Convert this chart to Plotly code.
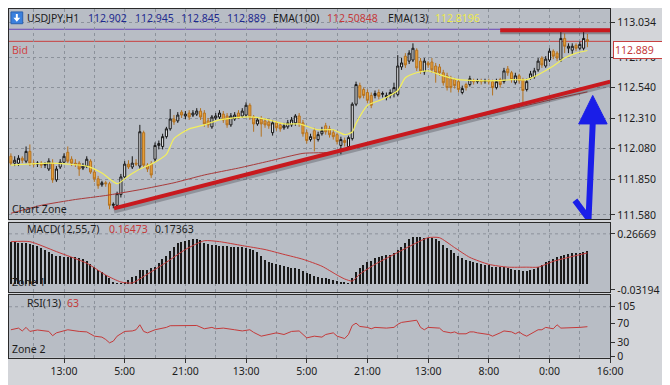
import plotly.graph_objects as go

W, H = 670, 385


def px(x):
    return x / W


def py(y):
    return 1 - y / H


# ---------------- data ----------------
opens = [
    112.022, 111.970, 111.970, 112.007, 111.985, 112.059, 111.970, 111.963, 111.970, 111.955,
    111.926, 111.970, 111.844, 111.941, 111.977, 112.052, 112.000, 111.970, 111.970, 111.933,
    111.948, 111.985, 111.903, 111.852, 111.807, 111.822, 111.815, 111.652, 111.652, 111.733,
    111.866, 111.963, 111.941, 111.970, 111.948, 112.200, 111.955, 111.963, 112.000, 112.104,
    112.096, 112.170, 112.229, 112.303, 112.289, 112.355, 112.326, 112.348, 112.333, 112.340,
    112.363, 112.348, 112.289, 112.244, 112.311, 112.318, 112.340, 112.326, 112.259, 112.303,
    112.348, 112.326, 112.333, 112.407, 112.318, 112.266, 112.303, 112.289, 112.281, 112.200,
    112.274, 112.259, 112.237, 112.244, 112.259, 112.274, 112.326, 112.274, 112.200, 112.148,
    112.215, 112.148, 112.192, 112.252, 112.229, 112.200, 112.185, 112.104, 112.141, 112.096,
    112.155, 112.415, 112.555, 112.526, 112.503, 112.481, 112.481, 112.503, 112.489, 112.466,
    112.481, 112.496, 112.489, 112.696, 112.777, 112.740, 112.748, 112.822, 112.740, 112.659,
    112.726, 112.733, 112.703, 112.696, 112.652, 112.629, 112.607, 112.600, 112.585, 112.503,
    112.563, 112.563, 112.592, 112.585, 112.592, 112.585, 112.592, 112.585, 112.540, 112.600,
    112.585, 112.681, 112.652, 112.577, 112.629, 112.600, 112.526, 112.614, 112.622, 112.674,
    112.763, 112.703, 112.748, 112.815, 112.800, 112.748, 112.911, 112.837, 112.822, 112.859,
    112.837, 112.837, 112.902]

highs = [
    112.044, 112.022, 112.030, 112.022, 112.096, 112.111, 111.992, 111.985, 111.985, 111.977,
    112.007, 112.000, 111.948, 112.000, 112.044, 112.096, 112.022, 112.000, 111.985, 111.970,
    112.022, 112.000, 111.926, 111.874, 111.837, 111.837, 111.829, 111.674, 111.755, 111.889,
    111.985, 111.992, 112.022, 112.000, 112.259, 112.215, 111.970, 111.985, 112.126, 112.141,
    112.192, 112.244, 112.378, 112.333, 112.355, 112.370, 112.363, 112.370, 112.370, 112.385,
    112.385, 112.370, 112.311, 112.333, 112.348, 112.370, 112.363, 112.348, 112.348, 112.355,
    112.370, 112.385, 112.429, 112.422, 112.333, 112.318, 112.326, 112.311, 112.303, 112.296,
    112.289, 112.274, 112.274, 112.296, 112.318, 112.340, 112.348, 112.296, 112.222, 112.192,
    112.237, 112.207, 112.244, 112.274, 112.252, 112.222, 112.200, 112.170, 112.163, 112.178,
    112.429, 112.585, 112.577, 112.540, 112.526, 112.503, 112.518, 112.526, 112.511, 112.503,
    112.526, 112.577, 112.785, 112.763, 112.800, 112.822, 112.874, 112.837, 112.763, 112.763,
    112.740, 112.763, 112.726, 112.718, 112.674, 112.652, 112.629, 112.614, 112.607, 112.555,
    112.577, 112.629, 112.607, 112.607, 112.607, 112.607, 112.607, 112.600, 112.607, 112.614,
    112.689, 112.703, 112.666, 112.652, 112.644, 112.614, 112.607, 112.666, 112.689, 112.763,
    112.777, 112.777, 112.837, 112.829, 112.815, 112.963, 112.948, 112.874, 112.874, 112.874,
    112.889, 112.963, 112.945]

lows = [
    111.955, 111.948, 111.948, 111.970, 111.970, 111.948, 111.941, 111.941, 111.933, 111.933,
    111.911, 111.822, 111.829, 111.926, 111.970, 111.970, 111.948, 111.941, 111.874, 111.918,
    111.933, 111.889, 111.829, 111.777, 111.792, 111.792, 111.622, 111.629, 111.637, 111.711,
    111.859, 111.926, 111.926, 111.948, 111.926, 111.933, 111.903, 111.859, 111.977, 112.074,
    112.074, 112.155, 112.215, 112.259, 112.274, 112.311, 112.303, 112.296, 112.318, 112.326,
    112.296, 112.244, 112.237, 112.229, 112.296, 112.303, 112.274, 112.237, 112.244, 112.289,
    112.303, 112.311, 112.318, 112.296, 112.207, 112.252, 112.170, 112.237, 112.229, 112.178,
    112.215, 112.207, 112.222, 112.229, 112.244, 112.252, 112.244, 112.170, 112.118, 112.133,
    112.059, 112.133, 112.178, 112.185, 112.163, 112.148, 112.111, 112.037, 112.096, 112.074,
    112.141, 112.400, 112.452, 112.459, 112.422, 112.385, 112.459, 112.452, 112.466, 112.444,
    112.459, 112.466, 112.474, 112.674, 112.689, 112.718, 112.733, 112.666, 112.644, 112.637,
    112.689, 112.652, 112.577, 112.629, 112.555, 112.518, 112.503, 112.533, 112.503, 112.489,
    112.518, 112.548, 112.563, 112.570, 112.563, 112.570, 112.563, 112.481, 112.526, 112.540,
    112.570, 112.629, 112.577, 112.563, 112.570, 112.429, 112.511, 112.600, 112.607, 112.659,
    112.689, 112.689, 112.733, 112.755, 112.740, 112.733, 112.800, 112.800, 112.792, 112.815,
    112.822, 112.822, 112.845]

closes = [
    111.970, 111.992, 112.007, 111.992, 112.059, 111.970, 111.963, 111.970, 111.955, 111.963,
    111.985, 111.844, 111.926, 111.977, 112.022, 111.985, 111.970, 111.963, 111.926, 111.948,
    112.000, 111.903, 111.852, 111.800, 111.822, 111.815, 111.652, 111.659, 111.740, 111.866,
    111.963, 111.941, 111.970, 111.963, 112.207, 111.955, 111.926, 111.881, 112.104, 112.118,
    112.170, 112.229, 112.303, 112.281, 112.333, 112.333, 112.340, 112.318, 112.348, 112.363,
    112.318, 112.266, 112.259, 112.318, 112.326, 112.348, 112.296, 112.259, 112.326, 112.333,
    112.318, 112.363, 112.407, 112.318, 112.266, 112.296, 112.266, 112.259, 112.252, 112.274,
    112.237, 112.229, 112.252, 112.274, 112.296, 112.326, 112.266, 112.192, 112.141, 112.170,
    112.155, 112.185, 112.215, 112.207, 112.185, 112.170, 112.133, 112.148, 112.126, 112.163,
    112.415, 112.563, 112.466, 112.481, 112.444, 112.407, 112.496, 112.474, 112.496, 112.481,
    112.503, 112.540, 112.703, 112.726, 112.711, 112.800, 112.837, 112.689, 112.666, 112.740,
    112.711, 112.674, 112.652, 112.652, 112.577, 112.540, 112.540, 112.555, 112.526, 112.533,
    112.540, 112.607, 112.585, 112.592, 112.585, 112.592, 112.585, 112.540, 112.585, 112.563,
    112.666, 112.652, 112.600, 112.629, 112.592, 112.518, 112.585, 112.644, 112.666, 112.740,
    112.711, 112.755, 112.815, 112.777, 112.763, 112.911, 112.852, 112.852, 112.852, 112.837,
    112.866, 112.911, 112.889]

bars = list(range(len(closes)))

ema13_x = [0, 10, 15, 20, 24, 28, 31, 34, 37, 41, 43, 47, 51, 55, 61, 64, 68, 72, 76, 77,
           81, 85, 88, 90, 91, 94, 98, 102, 104, 107, 110, 114, 118, 123, 128, 132, 136, 139,
           143, 146, 149, 152]
ema13_y = [111.955, 111.970, 111.963, 111.948, 111.896, 111.815, 111.874, 111.926, 111.963, 112.037,
           112.155, 112.229, 112.259, 112.296, 112.318, 112.318, 112.296, 112.266, 112.266, 112.259,
           112.222, 112.222, 112.185, 112.205, 112.270, 112.405, 112.452, 112.518, 112.614, 112.652,
           112.666, 112.629, 112.600, 112.592, 112.592, 112.600, 112.600, 112.637, 112.703, 112.763,
           112.800, 112.820]

ema100_x = [0, 8, 17, 25, 34, 43, 51, 60, 68, 77, 85, 89, 95, 110, 123, 134, 144, 152]
ema100_y = [111.592, 111.652, 111.696, 111.726, 111.770, 111.822, 111.881, 111.933, 111.985,
            112.044, 112.052, 112.074, 112.118, 112.229, 112.318, 112.392, 112.459, 112.508]

trend_x = [27.2, 158]
trend_y = [111.629, 112.585]
resist_x = [129, 158]
resist_y = [112.973, 112.973]
bid_price = 112.889
ask_price = 112.980

macd_hist = [
    0.225, 0.223, 0.220, 0.218, 0.216, 0.213, 0.207, 0.200, 0.191, 0.181,
    0.171, 0.161, 0.150, 0.146, 0.145, 0.144, 0.143, 0.142, 0.138, 0.130,
    0.122, 0.107, 0.091, 0.075, 0.061, 0.047, 0.033, 0.012, 0.003, 0.002,
    0.010, 0.023, 0.036, 0.042, 0.073, 0.073, 0.075, 0.083, 0.092, 0.110,
    0.130, 0.150, 0.177, 0.199, 0.218, 0.225, 0.230, 0.235, 0.241, 0.241,
    0.233, 0.220, 0.212, 0.209, 0.205, 0.203, 0.202, 0.200, 0.199, 0.198,
    0.196, 0.194, 0.190, 0.184, 0.178, 0.170, 0.149, 0.128, 0.116, 0.111,
    0.104, 0.100, 0.096, 0.091, 0.087, 0.083, 0.079, 0.070, 0.060, 0.050,
    0.044, 0.038, 0.032, 0.030, 0.025, 0.021, 0.015, 0.012, 0.009, 0.001,
    0.030, 0.063, 0.085, 0.103, 0.116, 0.120, 0.136, 0.144, 0.148, 0.152,
    0.156, 0.163, 0.178, 0.198, 0.218, 0.238, 0.248, 0.251, 0.251, 0.247,
    0.246, 0.244, 0.238, 0.226, 0.206, 0.191, 0.179, 0.167, 0.150, 0.137,
    0.127, 0.120, 0.115, 0.111, 0.107, 0.103, 0.099, 0.091, 0.089, 0.089,
    0.088, 0.084, 0.080, 0.076, 0.072, 0.068, 0.068, 0.073, 0.081, 0.090,
    0.102, 0.114, 0.123, 0.133, 0.141, 0.148, 0.154, 0.158, 0.162, 0.164,
    0.166, 0.170, 0.174]

signal_x = [0, 5, 12, 20, 25, 29, 32, 36, 41, 46, 51, 55, 61, 67, 72, 77, 82, 86, 88, 90,
            92, 96, 101, 105, 110, 113, 117, 121, 126, 131, 136, 139, 143, 148, 152]
signal_y = [0.225, 0.225, 0.172, 0.110, 0.047, 0.010, 0.005, 0.052, 0.115, 0.183,
            0.230, 0.225, 0.204, 0.183, 0.157, 0.131, 0.094, 0.047, 0.026, 0.015,
            0.052, 0.104, 0.157, 0.199, 0.246, 0.246, 0.193, 0.141, 0.104, 0.089,
            0.089, 0.089, 0.120, 0.146, 0.165]

rsi_x = [0, 2, 3, 4, 5, 7, 10, 11, 12, 14, 15, 18, 20, 22, 24, 25, 26, 27, 28, 30,
         32, 33, 34, 35, 36, 38, 41, 42, 46, 49, 51, 53, 54, 56, 59, 61, 63, 64, 66, 68,
         70, 72, 74, 76, 77, 78, 80, 82, 83, 85, 86, 88, 89, 90, 91, 92, 94, 95, 96, 99,
         101, 102, 103, 105, 106, 107, 108, 109, 110, 112, 113, 114, 116, 117, 118, 120, 121, 122, 123, 126,
         127, 129, 130, 132, 133, 134, 135, 136, 138, 139, 140, 141, 143, 144, 145, 148, 150, 152]
rsi_y = [56.5, 60, 54, 61.5, 53, 56, 53, 44, 50, 54, 56.5, 53, 52, 43, 41, 36, 29, 32.5, 43, 53,
         54, 56.5, 67, 53, 50, 56.5, 61.5, 65, 65.5, 65.5, 58.6, 61.5, 58.6, 60, 56.5, 54, 56.5, 51, 43, 46.5,
         50, 46.5, 53, 54, 46.5, 39.4, 43, 41, 46.5, 50, 43, 38, 46.5, 65.5, 70.4, 63.5, 61.5, 58.6, 61.5, 60,
         61.5, 68, 72, 74, 74, 76.6, 61.5, 56.5, 61.5, 60, 60, 53, 50, 52, 48, 48, 52, 52, 50, 46.5,
         43, 50, 54, 52, 48, 52, 46.5, 43, 53, 56.5, 56.5, 61.5, 58.6, 67, 60, 60, 61.5, 63]

price_ticks = [111.580, 111.850, 112.080, 112.310, 112.540, 112.770, 113.034]
macd_ticks = [-0.03194, 0.26669]
rsi_ticks = [0, 30, 70, 105]
time_tick_pos = [14, 30, 46, 62, 78, 94, 110, 126, 142, 158]
time_tick_text = ['13:00', '5:00', '21:00', '13:00', '5:00', '21:00', '13:00', '8:00', '0:00', '16:00']
minor_pos = [6, 22, 38, 54, 70, 86, 102, 118, 134, 150]

# arrow (drawn annotation) in data coordinates
arrow_shaft_x = [148.7, 152.3, 153.4]
arrow_shaft_y = [111.689, 111.552, 112.27]
arrow_head_x = [149.7, 157.2, 153.4]
arrow_head_y = [112.266, 112.266, 112.481]

# ---------------- styling ----------------
FONT = 'Noto Sans'
DARK = '#1c1c1c'
RED = '#c43a3a'
GRID = '#8c929b'
GDASH = '3px,3px'
AXLINE = '#2a2a2a'
XR = [-0.5, 158]
XDOM = [0, 614 / W]

fig = go.Figure()

# main panel
fig.add_trace(go.Scatter(x=ema100_x, y=ema100_y, mode='lines', xaxis='x', yaxis='y',
                         line=dict(color='#a83a3a', width=1, shape='spline', smoothing=0.5),
                         hoverinfo='skip'))
fig.add_trace(go.Candlestick(x=bars, open=opens, high=highs, low=lows, close=closes,
                             xaxis='x', yaxis='y', whiskerwidth=0,
                             increasing=dict(line=dict(color='#151515', width=1), fillcolor='#eceef1'),
                             decreasing=dict(line=dict(color='#b5721f', width=1), fillcolor='#eba33b'),
                             hoverinfo='skip'))
fig.add_trace(go.Scatter(x=ema13_x, y=ema13_y, mode='lines', xaxis='x', yaxis='y',
                         line=dict(color='#f3ef5c', width=1.2, shape='spline', smoothing=0.6),
                         hoverinfo='skip'))
fig.add_trace(go.Scatter(x=trend_x, y=[v - 0.024 for v in trend_y], mode='lines', xaxis='x', yaxis='y',
                         line=dict(color='rgba(50,50,60,0.30)', width=4), hoverinfo='skip'))
fig.add_trace(go.Scatter(x=trend_x, y=trend_y, mode='lines', xaxis='x', yaxis='y',
                         line=dict(color='#c8191e', width=4), hoverinfo='skip'))
fig.add_trace(go.Scatter(x=resist_x, y=[v - 0.02 for v in resist_y], mode='lines', xaxis='x', yaxis='y',
                         line=dict(color='rgba(40,40,50,0.35)', width=3), hoverinfo='skip'))
fig.add_trace(go.Scatter(x=resist_x, y=resist_y, mode='lines', xaxis='x', yaxis='y',
                         line=dict(color='#c8191e', width=4), hoverinfo='skip'))

# MACD panel
fig.add_trace(go.Bar(x=bars, y=macd_hist, width=0.36, xaxis='x2', yaxis='y2',
                     marker=dict(color='#1a1a1a', line=dict(width=0)), hoverinfo='skip'))
fig.add_trace(go.Scatter(x=signal_x, y=signal_y, mode='lines', xaxis='x2', yaxis='y2',
                         line=dict(color='#c43a3a', width=1, shape='spline', smoothing=0.6),
                         hoverinfo='skip'))

# RSI panel
fig.add_trace(go.Scatter(x=rsi_x, y=rsi_y, mode='lines', xaxis='x3', yaxis='y3',
                         line=dict(color='#c43a3a', width=1), hoverinfo='skip'))


def xaxis(anchor, labels):
    d = dict(range=XR, domain=XDOM, anchor=anchor, tickmode='array', tickvals=time_tick_pos,
             ticktext=time_tick_text, showgrid=True, gridcolor=GRID, griddash=GDASH, gridwidth=1,
             minor=dict(tickvals=minor_pos, showgrid=True, gridcolor=GRID, griddash=GDASH, ticks=''),
             zeroline=False, showline=True, linecolor=AXLINE, linewidth=1, mirror=True,
             showticklabels=labels, ticks='outside' if labels else '', ticklen=4, tickcolor='#333',
             tickfont=dict(family=FONT, size=10.5, color=DARK), fixedrange=True,
             rangeslider=dict(visible=False))
    if anchor != 'y':
        d['matches'] = 'x'
    return d


def yaxis(domain, rng, tv, tt, grid, anchor):
    return dict(domain=domain, range=rng, side='right', anchor=anchor, tickmode='array',
                tickvals=tv, ticktext=tt, showgrid=grid, gridcolor=GRID, griddash=GDASH,
                zeroline=False, showline=True, linecolor=AXLINE, linewidth=1, mirror=True,
                ticks='outside', ticklen=4, tickcolor='#333',
                tickfont=dict(family=FONT, size=10.5, color=DARK), fixedrange=True)


shapes = [
    # ask (purple) and bid (red) horizontal levels
    dict(type='line', xref='x domain', yref='y', x0=0, x1=1, y0=ask_price, y1=ask_price,
         line=dict(color='#6a46b8', width=1), layer='below'),
    dict(type='line', xref='x domain', yref='y', x0=0, x1=1, y0=bid_price, y1=bid_price,
         line=dict(color='#c84040', width=1), layer='below'),
    # top gridlines of the indicator panels
    dict(type='line', xref='x2 domain', yref='y2', x0=0, x1=1, y0=macd_ticks[1], y1=macd_ticks[1],
         line=dict(color=GRID, width=1, dash=GDASH), layer='below'),
    dict(type='line', xref='x3 domain', yref='y3', x0=0, x1=1, y0=rsi_ticks[3], y1=rsi_ticks[3],
         line=dict(color=GRID, width=1, dash=GDASH), layer='below'),
    # blue hand-drawn arrow
    dict(type='path', xref='x', yref='y', layer='above',
         path='M {},{} L {},{} L {},{}'.format(arrow_shaft_x[0], arrow_shaft_y[0], arrow_shaft_x[1],
                                                arrow_shaft_y[1], arrow_shaft_x[2], arrow_shaft_y[2]),
         line=dict(color='#1a1ee8', width=6)),
    dict(type='path', xref='x', yref='y', layer='above',
         path='M {},{} L {},{} L {},{} Z'.format(arrow_head_x[0], arrow_head_y[0], arrow_head_x[1],
                                                  arrow_head_y[1], arrow_head_x[2], arrow_head_y[2]),
         fillcolor='#1a1ee8', line=dict(color='#1a1ee8', width=1)),
    # symbol icon
    dict(type='rect', xref='paper', yref='paper', x0=px(2), x1=px(14), y0=py(15), y1=py(3),
         fillcolor='#3a80de', line=dict(color='#2a60b0', width=1)),
    dict(type='path', xref='paper', yref='paper',
         path='M {},{} L {},{} L {},{} L {},{} L {},{} L {},{} L {},{} Z'.format(
             px(7), py(5), px(9), py(5), px(9), py(9), px(11.5), py(9), px(8), py(13),
             px(4.5), py(9), px(7), py(9)),
         fillcolor='white', line=dict(width=0)),
]


def label(x, y, text, color=DARK, size=10.5):
    return dict(x=px(x), y=py(y), xref='paper', yref='paper', text=text, showarrow=False,
                xanchor='left', yanchor='middle', font=dict(family=FONT, size=size, color=color))


BLUE = '#1f2a8f'
annotations = [
    label(16, 9, 'USDJPY,H1'),
    label(79, 9, '112.902', BLUE),
    label(127, 9, '112.945', BLUE),
    label(174, 9, '112.845', BLUE),
    label(221, 9, '112.889', BLUE),
    label(268, 9, 'EMA(100)'),
    label(323, 9, '112.50848', RED),
    label(385, 9, 'EMA(13)'),
    label(433, 9, '112.8196', '#ecea4a'),
    label(1, 42, 'Bid', '#d04545'),
    label(1, 204, 'Chart Zone'),
    label(16, 224, 'MACD(12,55,7)'),
    label(100, 224, '0.16473', RED),
    label(147, 224, '0.17363'),
    label(1, 278, 'Zone 1'),
    label(16, 299, 'RSI(13)'),
    label(57, 299, '63', RED),
    label(1, 346, 'Zone 2'),
    dict(x=px(617), y=py(42), xref='paper', yref='paper', text='112.889', showarrow=False,
         xanchor='left', yanchor='middle', align='left', width=48,
         font=dict(family=FONT, size=10.5, color=RED), bgcolor='white',
         bordercolor='#c84040', borderwidth=1, borderpad=1),
]

fig.update_layout(
    width=W, height=H, margin=dict(l=0, r=0, t=0, b=0),
    paper_bgcolor='#d3d5d9', plot_bgcolor='#b8bdc5',
    showlegend=False, boxgap=0.22, bargap=0,
    font=dict(family=FONT, size=10.5, color=DARK),
    xaxis=xaxis('y', False),
    xaxis2=xaxis('y2', False),
    xaxis3=xaxis('y3', True),
    yaxis=yaxis([1 - 214 / H, 1], [111.548, 113.133], price_ticks,
                ['%.3f' % v for v in price_ticks], True, 'x'),
    yaxis2=yaxis([1 - 288 / H, 1 - 218 / H], [-0.0422, 0.3243], macd_ticks,
                 ['-0.03194', '0.26669'], False, 'x2'),
    yaxis3=yaxis([1 - 355 / H, 1 - 291 / H], [-2.07, 130.4], rsi_ticks,
                 [str(v) for v in rsi_ticks], False, 'x3'),
    shapes=shapes,
    annotations=annotations,
)

fig.write_html('out.html')
